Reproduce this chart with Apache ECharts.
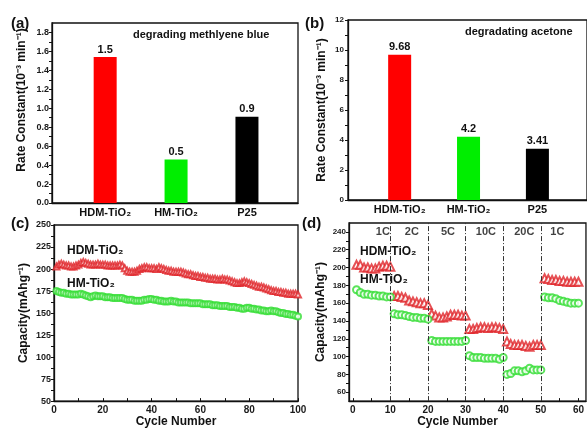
<!DOCTYPE html>
<html>
<head>
<meta charset="utf-8">
<script src="https://cdn.jsdelivr.net/npm/echarts@6/dist/echarts.min.js"></script>
<style>
html, body { margin: 0; padding: 0; background: #fff; }
#chart-container { width: 587px; height: 429px; }
</style>
</head>
<body>
<div id="chart-container"></div>
<script>
var dom = document.getElementById('chart-container');
var myChart = echarts.init(dom, null, { renderer: 'canvas' });

// (a) + (b) rate constants
var samples = ['HDM-TiO₂', 'HM-TiO₂', 'P25'];
var barColors = ['#ff0000', '#00ee00', '#000000'];
var rateBlue = [1.54, 0.46, 0.91];
var rateBlueLabels = ['1.5', '0.5', '0.9'];
var rateAcetone = [9.68, 4.22, 3.41];
var rateAcetoneLabels = ['9.68', '4.2', '3.41'];

// (c) cycling at 1C, 100 cycles
var hdmCycling = [
  203, 205, 206, 205, 204, 204, 203, 203, 204, 205,
  207, 208, 207, 206, 205, 205, 205, 206, 205, 205,
  205, 204, 204, 204, 204, 204, 205, 204, 201, 198,
  197, 197, 197, 198, 200, 201, 202, 202, 201, 201,
  201, 200, 202, 201, 200, 199, 198, 198, 197, 197,
  197, 197, 196, 195, 194, 194, 193, 192, 192, 191,
  191, 190, 190, 189, 189, 189, 188, 188, 189, 188,
  188, 187, 186, 185, 184, 184, 185, 186, 185, 184,
  183, 182, 181, 180, 180, 179, 178, 177, 176, 175,
  175, 174, 174, 173, 173, 172, 172, 172, 172, 171
];
var hmCycling = [
  175, 174, 173, 173, 172, 172, 171, 171, 171, 171,
  172, 171, 170, 169, 168, 169, 170, 169, 169, 169,
  168, 168, 168, 167, 167, 167, 167, 167, 166, 165,
  165, 165, 164, 164, 164, 164, 165, 165, 166, 166,
  165, 165, 164, 164, 163, 163, 163, 164, 163, 163,
  162, 162, 162, 162, 162, 161, 161, 161, 161, 161,
  160, 160, 160, 160, 159, 159, 159, 158, 158, 158,
  158, 157, 157, 157, 156, 156, 155, 155, 156, 156,
  155, 155, 154, 154, 153, 153, 152, 152, 153, 152,
  152, 151, 150, 150, 149, 149, 148, 148, 147, 146
];

// (d) rate capability, 10 cycles per rate
var rates = ['1C', '2C', '5C', '10C', '20C', '1C'];
var rateLabelX = [8, 15.7, 25.3, 35.4, 45.6, 54.4];
var rateBreaks = [10, 20, 30, 40, 50];
var hdmRate = [
  203, 203, 200, 200, 199, 199, 201, 202, 202, 201,
  168, 168, 167, 166, 163, 162, 161, 160, 160, 158,
  148, 146, 144, 144, 145, 147, 147, 147, 146, 146,
  131, 131, 132, 133, 133, 132, 133, 133, 132, 131,
  117, 114, 113, 113, 113, 112, 111, 113, 113, 113,
  188, 187, 186, 186, 185, 185, 184, 184, 184, 184
];
var hmRate = [
  175, 172, 170, 170, 169, 169, 168, 168, 167, 167,
  148, 147, 147, 146, 145, 144, 144, 143, 143, 142,
  118, 117, 117, 117, 117, 117, 117, 117, 117, 118,
  101, 99, 99, 99, 98, 98, 98, 98, 97, 99,
  80, 81, 84, 84, 83, 84, 87, 85, 85, 85,
  167, 166, 166, 165, 163, 162, 161, 160, 160, 160
];

var F = '"Liberation Sans", Arial, sans-serif';
var red = '#e0262a';
var green = '#33dd33';

function pairs(vals) {
  return vals.map(function (v, i) { return [i + 1, v]; });
}

function barData(vals) {
  return vals.map(function (v, i) {
    return { value: [i + 1, v], itemStyle: { color: barColors[i] } };
  });
}

var tickLabel = { fontFamily: F, fontWeight: 'bold', fontSize: 9, color: '#1a1a1a' };
var axisName = { fontFamily: F, fontWeight: 'bold', fontSize: 12, color: '#111' };
var axisLine = { show: true, onZero: false, lineStyle: { color: '#111', width: 1.3 } };
var gridBox = { show: true, borderColor: '#111', borderWidth: 1.3, containLabel: false };

function catXAxis(gridIndex) {
  return {
    type: 'value', gridIndex: gridIndex, min: 0.25, max: 3.72,
    splitLine: { show: false }, axisLine: axisLine,
    axisTick: { show: false },
    axisLabel: {
      customValues: [1, 2, 3],
      formatter: function (v) { return samples[Math.round(v) - 1] || ''; },
      fontFamily: F, fontWeight: 'bold', fontSize: 11, color: '#111', margin: 4
    }
  };
}

function steps(a, b, s) {
  var out = [];
  for (var v = a; v <= b + 1e-9; v += s) out.push(Math.round(v * 100) / 100);
  return out;
}

function title(text, left, top, size) {
  return {
    text: text, left: left, top: top, padding: 0,
    textStyle: { fontFamily: F, fontWeight: 'bold', fontSize: size, color: '#111' }
  };
}

var option = {
  animation: false,
  backgroundColor: '#fff',
  title: [
    title('(a)', 11, 16, 15),
    title('(b)', 305, 16, 15),
    title('(c)', 11, 216, 15),
    title('(d)', 302, 216, 15),
    title('degrading methlyene blue', 133, 29, 11),
    title('degradating acetone', 465, 26, 11),
    title('HDM-TiO₂', 67, 245, 12),
    title('HM-TiO₂', 67, 278, 12),
    title('HDM-TiO₂', 360, 246, 12),
    title('HM-TiO₂', 360, 274, 12)
  ],
  grid: [
    Object.assign({ left: 52, top: 23, right: 289, bottom: 226 }, gridBox),
    Object.assign({ left: 348, top: 20, right: -6, bottom: 229 }, gridBox),
    Object.assign({ left: 54, top: 225, right: 289, bottom: 26 }, gridBox),
    Object.assign({ left: 349, top: 223, right: -11, bottom: 24 }, gridBox)
  ],
  xAxis: [
    catXAxis(0),
    catXAxis(1),
    {
      type: 'value', gridIndex: 2, min: 0, max: 100,
      name: 'Cycle Number', nameLocation: 'middle', nameGap: 14, nameTextStyle: axisName,
      splitLine: { show: false }, axisLine: axisLine,
      axisTick: { inside: true, length: 3, customValues: steps(0, 100, 10), lineStyle: { color: '#111' } },
      axisLabel: Object.assign({ customValues: steps(0, 100, 20), margin: 4 }, tickLabel, { fontSize: 10 })
    },
    {
      type: 'value', gridIndex: 3, min: -1, max: 62,
      name: 'Cycle Number', nameLocation: 'middle', nameGap: 14,
      nameTextStyle: Object.assign({}, axisName, { padding: [0, 20, 0, 0] }),
      splitLine: { show: false }, axisLine: axisLine,
      axisTick: { inside: true, length: 3, customValues: steps(0, 60, 5), lineStyle: { color: '#111' } },
      axisLabel: Object.assign({ customValues: steps(0, 60, 10), margin: 4 }, tickLabel, { fontSize: 10 })
    }
  ],
  yAxis: [
    {
      type: 'value', gridIndex: 0, min: 0, max: 1.9,
      name: 'Rate Constant(10⁻³ min⁻¹)', nameLocation: 'middle', nameGap: 24,
      nameTextStyle: Object.assign({}, axisName, { padding: [0, 0, 0, 26] }),
      splitLine: { show: false }, axisLine: axisLine,
      axisTick: { length: 3, customValues: steps(0, 1.8, 0.1), lineStyle: { color: '#111' } },
      axisLabel: Object.assign({
        customValues: steps(0, 1.8, 0.2), margin: 3,
        formatter: function (v) { return v.toFixed(1); }
      }, tickLabel)
    },
    {
      type: 'value', gridIndex: 1, min: 0, max: 12,
      name: 'Rate Constant(10⁻³ min⁻¹)', nameLocation: 'middle', nameGap: 20,
      nameTextStyle: axisName,
      splitLine: { show: false }, axisLine: axisLine,
      axisTick: { length: 3, customValues: steps(0, 12, 1), lineStyle: { color: '#111' } },
      axisLabel: Object.assign({ customValues: steps(0, 12, 2), margin: 4 }, tickLabel, { fontSize: 8 })
    },
    {
      type: 'value', gridIndex: 2, min: 50, max: 250,
      name: 'Capacity(mAhg⁻¹)', nameLocation: 'middle', nameGap: 24,
      nameTextStyle: axisName,
      splitLine: { show: false }, axisLine: axisLine,
      axisTick: { length: 3, customValues: steps(50, 250, 12.5), lineStyle: { color: '#111' } },
      axisLabel: Object.assign({ customValues: steps(50, 250, 25), margin: 3 }, tickLabel)
    },
    {
      type: 'value', gridIndex: 3, min: 50, max: 250,
      name: 'Capacity(mAhg⁻¹)', nameLocation: 'middle', nameGap: 22,
      nameTextStyle: axisName,
      splitLine: { show: false }, axisLine: axisLine,
      axisTick: { length: 3, customValues: steps(60, 240, 10), lineStyle: { color: '#111' } },
      axisLabel: Object.assign({ customValues: steps(60, 240, 20), margin: 3 }, tickLabel, { fontSize: 8 })
    }
  ],
  series: [
    {
      type: 'bar', xAxisIndex: 0, yAxisIndex: 0, barWidth: 23,
      data: barData(rateBlue),
      label: {
        show: true, position: 'top', distance: 2,
        formatter: function (p) { return rateBlueLabels[p.dataIndex]; },
        fontFamily: F, fontWeight: 'bold', fontSize: 11, color: '#111'
      }
    },
    {
      type: 'bar', xAxisIndex: 1, yAxisIndex: 1, barWidth: 23,
      data: barData(rateAcetone),
      label: {
        show: true, position: 'top', distance: 2,
        formatter: function (p) { return rateAcetoneLabels[p.dataIndex]; },
        fontFamily: F, fontWeight: 'bold', fontSize: 11, color: '#111'
      }
    },
    {
      name: 'HDM-TiO₂', type: 'scatter', xAxisIndex: 2, yAxisIndex: 2,
      symbol: 'emptyTriangle', symbolSize: 6,
      itemStyle: { color: red, borderWidth: 1 },
      data: pairs(hdmCycling)
    },
    {
      name: 'HM-TiO₂', type: 'scatter', xAxisIndex: 2, yAxisIndex: 2,
      symbol: 'emptyCircle', symbolSize: 6,
      itemStyle: { color: green, borderWidth: 1 },
      data: pairs(hmCycling)
    },
    {
      name: 'HDM-TiO₂', type: 'scatter', xAxisIndex: 3, yAxisIndex: 3,
      symbol: 'emptyTriangle', symbolSize: 8,
      itemStyle: { color: red, borderWidth: 1.3 },
      data: pairs(hdmRate),
      markLine: {
        silent: true, symbol: 'none', label: { show: false },
        lineStyle: { color: '#333', width: 1, type: [5, 2, 1, 2] },
        data: rateBreaks.map(function (x) { return { xAxis: x }; })
      }
    },
    {
      name: 'HM-TiO₂', type: 'scatter', xAxisIndex: 3, yAxisIndex: 3,
      symbol: 'emptyCircle', symbolSize: 7,
      itemStyle: { color: green, borderWidth: 1.3 },
      data: pairs(hmRate)
    },
    {
      type: 'scatter', xAxisIndex: 3, yAxisIndex: 3, symbolSize: 1,
      itemStyle: { color: 'transparent' },
      data: rateLabelX.map(function (x) { return [x, 240]; }),
      label: {
        show: true, position: 'inside',
        formatter: function (p) { return rates[p.dataIndex]; },
        fontFamily: F, fontWeight: 'bold', fontSize: 11, color: '#111'
      }
    }
  ]
};

if (option && typeof option === 'object') {
  myChart.setOption(option);
}

window.addEventListener('resize', myChart.resize);
</script>
</body>
</html>
